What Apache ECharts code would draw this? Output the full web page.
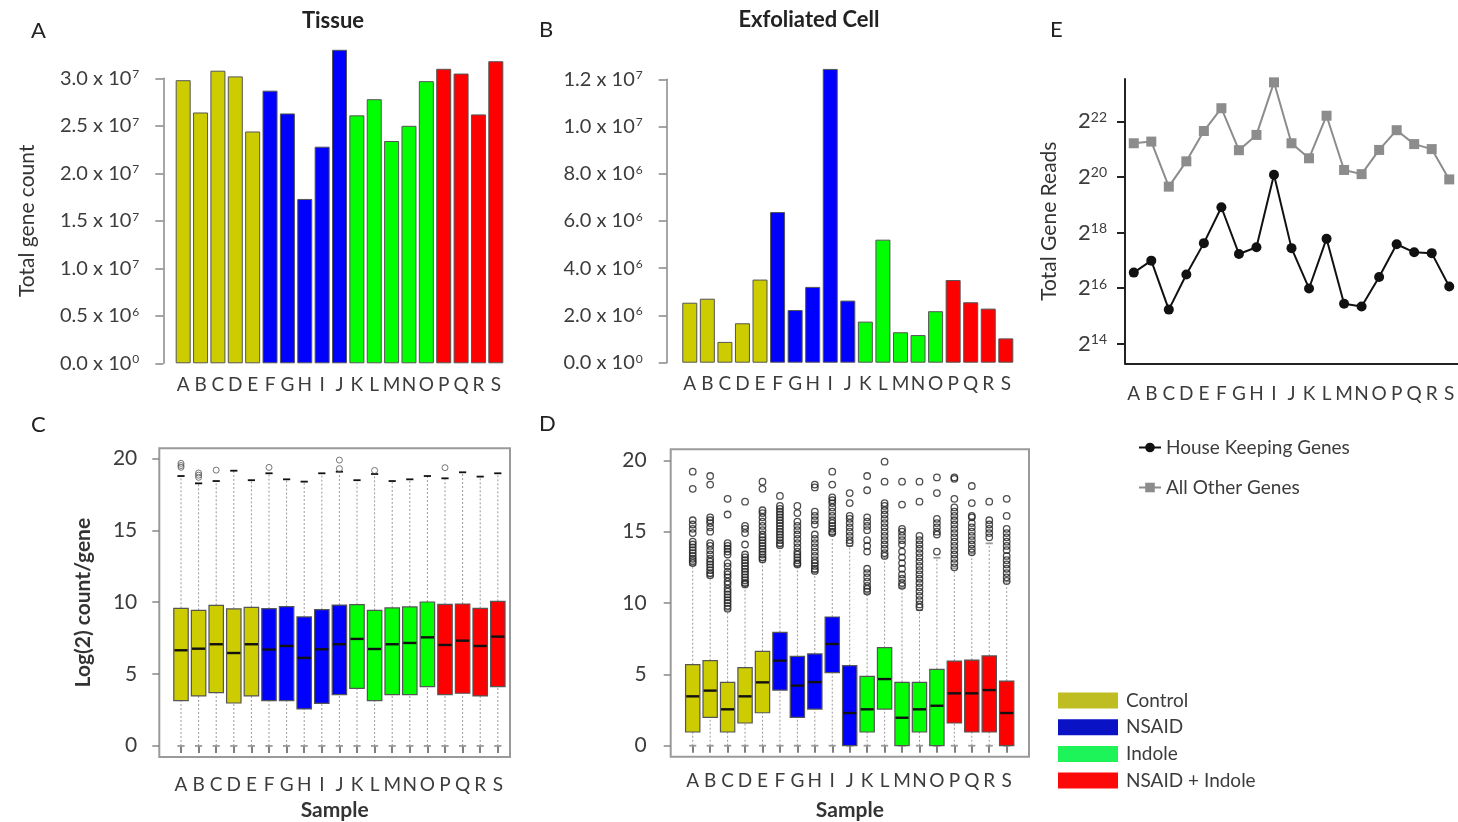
<!DOCTYPE html>
<html>
<head>
<meta charset="utf-8">
<script src="https://cdn.jsdelivr.net/npm/echarts@6/dist/echarts.min.js"></script>
<style>
html,body{margin:0;padding:0;background:#fff;}
#chart{width:1458px;height:822px;}
</style>
</head>
<body>
<div id="chart"></div>
<script>
// ---------------- DATA ----------------
const categories = ['A','B','C','D','E','F','G','H','I','J','K','L','M','N','O','P','Q','R','S'];
const groupNames = ['Control','NSAID','Indole','NSAID + Indole'];
const groupOfSample = [0,0,0,0,0,1,1,1,1,1,2,2,2,2,2,3,3,3,3];

// Panel A: Tissue total gene count
const tissueTotal = [2.98e7,2.64e7,3.08e7,3.02e7,2.44e7,2.87e7,2.63e7,1.73e7,2.28e7,3.30e7,2.61e7,2.78e7,2.34e7,2.50e7,2.97e7,3.10e7,3.05e7,2.62e7,3.18e7];
const tissueTickValues = [0,5e6,1e7,1.5e7,2e7,2.5e7,3e7];
const tissueTickLabels = ['0.0 x 10^0','0.5 x 10^6','1.0 x 10^7','1.5 x 10^7','2.0 x 10^7','2.5 x 10^7','3.0 x 10^7'];

// Panel B: Exfoliated cell total gene count
const cellTotal = [2.54e6,2.71e6,0.88e6,1.67e6,3.52e6,6.38e6,2.23e6,3.21e6,12.44e6,2.63e6,1.74e6,5.21e6,1.29e6,1.17e6,2.18e6,3.50e6,2.56e6,2.29e6,1.03e6];
const cellTickValues = [0,2e6,4e6,6e6,8e6,1e7,1.2e7];
const cellTickLabels = ['0.0 x 10^0','2.0 x 10^6','4.0 x 10^6','6.0 x 10^6','8.0 x 10^6','1.0 x 10^7','1.2 x 10^7'];

// Panel C: tissue log2 count/gene  [lower whisker, Q1, median, Q3, upper whisker]
const tissueBox = [
 [0,3.16,6.66,9.58,18.79],[0,3.48,6.77,9.44,18.28],[0,3.71,7.08,9.79,18.44],[0,2.99,6.47,9.54,19.16],
 [0,3.48,7.08,9.65,18.50],[0,3.16,6.71,9.56,18.98],[0,3.16,6.96,9.70,18.56],[0,2.58,6.13,8.98,18.40],
 [0,2.97,6.73,9.49,18.98],[0,3.57,7.08,9.81,19.09],[0,4.01,7.45,9.84,18.50],[0,3.16,6.75,9.44,18.93],
 [0,3.57,7.08,9.61,18.44],[0,3.57,7.17,9.68,18.56],[0,4.13,7.56,10.02,18.79],[0,3.57,7.03,9.86,18.63],
 [0,3.67,7.33,9.88,19.05],[0,3.48,6.96,9.58,18.75],[0,4.13,7.61,10.07,18.98]
];
const tissueOutliers = [
 [19.67,19.52,19.40],[19.0,18.85,18.7],[19.2],[],[],[19.39],[],[],[],[19.9,19.3],[],[19.18],[],[],[],[19.37],[],[],[]
];

// Panel D: exfoliated cell log2 count/gene
const cellBox = [
 [0,0.96,3.46,5.68,12.66],[0,1.99,3.86,5.96,11.85],[0,0.96,2.55,4.44,9.51],[0,1.59,3.46,5.47,11.24],
 [0,2.31,4.44,6.61,12.97],[0,3.90,5.96,7.94,13.95],[0,1.99,4.21,6.26,12.62],[0,2.57,4.46,6.43,12.15],
 [0,5.12,7.13,9.02,14.81],[0,0,2.29,5.61,14.0],[0,0.96,2.55,4.86,10.68],[0,2.57,4.67,6.87,13.2],
 [0,0,1.96,4.44,11.07],[0,0.96,2.55,4.44,9.51],[0,0,2.80,5.35,13.17],[0,1.59,3.67,5.93,12.43],
 [0,0.96,3.67,6.0,13.48],[0,0.96,3.90,6.29,14.18],[0,0,2.29,4.53,11.5]
];
const cellOutliers = [
 [19.2,18.0,15.8,15.5,15.2,14.9,14.3,14.1,13.9,13.7,13.5,13.3,13.1,12.95,12.8],
 [18.9,18.3,16.0,15.8,15.6,15.3,15.0,14.2,14.0,13.7,13.4,13.1,12.9,12.7,12.5,12.3,12.1,11.95],
 [17.3,16.2,14.2,14.0,13.8,13.6,13.4,12.8,12.55,12.2,12.0,11.8,11.5,11.3,11.0,10.8,10.6,10.4,10.2,10.0,9.8,9.6],
 [17.1,15.4,15.2,14.9,14.1,13.4,13.2,13.0,12.8,12.6,12.4,12.2,12.0,11.8,11.6,11.4,11.3],
 [18.5,18.0,16.5,16.3,16.0,15.7,15.4,15.1,14.8,14.6,14.4,14.2,14.0,13.8,13.6,13.4,13.2,13.05],
 [17.5,16.8,16.6,16.4,16.2,16.0,15.8,15.6,15.4,15.2,15.0,14.8,14.6,14.4,14.2,14.05],
 [16.8,16.3,15.7,15.4,15.1,14.8,14.5,14.2,13.9,13.6,13.4,13.2,13.0,12.8,12.7],
 [18.3,18.1,16.4,16.1,15.8,15.5,14.8,14.5,14.2,13.9,13.6,13.3,13.0,12.8,12.6,12.4,12.25],
 [19.2,18.3,17.4,17.2,17.0,16.7,16.4,16.1,15.8,15.6,15.4,15.2,15.0,14.9],
 [17.7,17.0,16.1,15.9,15.6,15.3,15.0,14.7,14.4,14.2],
 [18.9,17.9,16.0,15.7,15.4,15.1,14.4,14.0,13.6,12.4,12.1,11.8,11.5,11.2,11.0,10.8],
 [19.9,18.5,17.0,16.8,16.5,16.2,15.9,15.6,15.3,15.0,14.7,14.4,14.1,13.8,13.5,13.3],
 [18.5,16.9,15.2,15.0,14.7,14.4,14.1,13.6,13.2,12.8,12.4,12.0,11.7,11.4,11.2],
 [18.5,17.1,14.7,14.4,14.1,13.8,13.5,13.2,12.9,12.6,12.3,12.0,11.7,11.4,11.1,10.8,10.5,10.2,9.9,9.7],
 [18.8,17.7,15.9,15.6,15.3,15.0,14.8,13.6],
 [18.8,18.7,17.3,16.7,16.4,16.1,15.8,15.5,15.2,14.9,14.6,14.3,14.0,13.7,13.4,13.1,12.8,12.5],
 [18.2,17.0,16.1,16.0,15.6,15.3,15.0,14.7,14.4,14.1,13.8,13.55],
 [17.1,15.8,15.5,15.2,14.9,14.6],
 [17.3,16.1,15.2,14.9,14.6,14.3,14.0,13.7,13.3,13.0,12.7,12.4,12.1,11.8,11.55]
];

// Panel E: total gene reads (log2)
const housekeepingLog2 = [16.56,16.99,15.23,16.49,17.62,18.91,17.23,17.47,20.08,17.44,15.99,17.78,15.44,15.34,16.40,17.58,17.29,17.26,16.06];
const otherLog2 = [21.21,21.27,19.65,20.56,21.65,22.47,20.96,21.51,23.40,21.21,20.67,22.20,20.25,20.10,20.97,21.68,21.18,21.00,19.91];
const log2TickValues = [14,16,18,20,22];

// ---------------- STYLE ----------------
const FONT = 'Lato, "Open Sans", sans-serif';
const TXT = '#3c3c3c';
const barColors = ['#CCCC00','#0000FF','#00FF00','#FF0000'];
const legendColors = ['#BEBE22','#0A12C6','#1CF45A','#FC0A0A'];

function sci(label){
  const p = label.split('^');
  return '{m|' + p[0] + '}{e|' + p[1] + '}';
}
const sciRich = {
  m:{fontSize:20, color:TXT, fontFamily:FONT},
  e:{fontSize:12, color:TXT, fontFamily:FONT, verticalAlign:'top', padding:[0,0,0,1]}
};

function barSeries(values, xi, yi){
  return groupNames.map(function(name, g){
    return {
      type:'bar', name:name, xAxisIndex:xi, yAxisIndex:yi,
      barWidth:15, barGap:'-100%',
      itemStyle:{color:barColors[g], borderColor:'#555', borderWidth:1},
      data: values.map(function(v,i){ return groupOfSample[i]===g ? v : '-'; })
    };
  });
}

function boxRenderer(capColor){
  return function(params, api){
    const x = api.value(0);
    const lo = api.coord([x, api.value(1)]);
    const q1 = api.coord([x, api.value(2)]);
    const md = api.coord([x, api.value(3)]);
    const q3 = api.coord([x, api.value(4)]);
    const hi = api.coord([x, api.value(5)]);
    const bw = api.size([1,0])[0] * 0.82;
    const cx = lo[0];
    const color = barColors[groupOfSample[x]];
    const children = [
      {type:'line', shape:{x1:cx,y1:lo[1],x2:cx,y2:q1[1]}, style:{stroke:'#9a9a9a', lineWidth:1, lineDash:[2,2]}},
      {type:'line', shape:{x1:cx,y1:q3[1],x2:cx,y2:hi[1]}, style:{stroke:'#9a9a9a', lineWidth:1, lineDash:[2,2]}},
      {type:'line', shape:{x1:cx-bw/4,y1:hi[1],x2:cx+bw/4,y2:hi[1]}, style:{stroke:capColor, lineWidth:1.8}},
      {type:'line', shape:{x1:cx-bw/4,y1:lo[1],x2:cx+bw/4,y2:lo[1]}, style:{stroke:'#999', lineWidth:1.8}}
    ];
    if (q1[1] - q3[1] > 0.5) {
      children.push({type:'rect', shape:{x:cx-bw/2, y:q3[1], width:bw, height:q1[1]-q3[1]}, style:{fill:color, stroke:'#555', lineWidth:1.2}});
    }
    children.push({type:'line', shape:{x1:cx-bw/2+0.6,y1:md[1],x2:cx+bw/2-0.6,y2:md[1]}, style:{stroke:'#111', lineWidth:2.4}});
    return {type:'group', children:children};
  };
}

function outlierData(lists){
  const out = [];
  lists.forEach(function(l,i){ l.forEach(function(v){ out.push([i, v]); }); });
  return out;
}

const hiddenX = function(gi){ return {gridIndex:gi, type:'value', min:0, max:1, show:false}; };

const catLabel = function(margin){ return {interval:0, fontSize:19, color:TXT, fontFamily:FONT, margin:margin}; };
const letterStyle = {fontSize:22, fontWeight:'normal', color:'#222', fontFamily:FONT};
const titleStyle = {fontSize:22, fontWeight:'bold', color:'#222', fontFamily:FONT};

const option = {
  animation:false,
  backgroundColor:'#fff',
  textStyle:{fontFamily:FONT},
  title:[
    {text:'A', left:31, top:20, padding:0, textStyle:letterStyle},
    {text:'Tissue', left:333, top:10, textAlign:'center', padding:0, textStyle:titleStyle},
    {text:'B', left:539, top:19, padding:0, textStyle:letterStyle},
    {text:'Exfoliated Cell', left:809, top:9, textAlign:'center', padding:0, textStyle:titleStyle},
    {text:'C', left:31, top:414, padding:0, textStyle:letterStyle},
    {text:'D', left:539, top:413, padding:0, textStyle:letterStyle},
    {text:'E', left:1050, top:19, padding:0, textStyle:letterStyle}
  ],
  legend:[
    {
      orient:'vertical', left:1133, top:433, itemWidth:22, itemHeight:12, itemGap:21,
      textStyle:{fontSize:19, color:TXT, fontFamily:FONT},
      data:['House Keeping Genes','All Other Genes']
    },
    {
      orient:'vertical', left:1053, top:686, itemWidth:60, itemHeight:16, itemGap:7.7,
      icon:'rect', selectedMode:false,
      textStyle:{fontSize:19, color:TXT, fontFamily:FONT, padding:[0,0,0,3]},
      data: groupNames.map(function(n,g){ return {name:n, itemStyle:{color:legendColors[g], borderWidth:0}}; })
    }
  ],
  grid:[
    {left:163.3, top:78.3, width:10, height:285},
    {left:174.5, top:49.8, width:330, height:313.5},
    {left:666.7, top:79.3, width:10, height:283.4},
    {left:681, top:55.7, width:333.6, height:307},
    {left:159.3, top:448.3, width:350.7, height:309, show:true, borderColor:'#9a9a9a', borderWidth:2},
    {left:172.2, top:448.3, width:334.4, height:309},
    {left:670.7, top:449.3, width:358.3, height:307.4, show:true, borderColor:'#9a9a9a', borderWidth:2},
    {left:684, top:449.3, width:331.4, height:307.4},
    {left:1125, top:79, width:333, height:284.3}
  ],
  xAxis:[
    hiddenX(0),
    {gridIndex:1, type:'category', data:categories, axisLine:{show:false}, axisTick:{show:false}, axisLabel:catLabel(12)},
    hiddenX(2),
    {gridIndex:3, type:'category', data:categories, axisLine:{show:false}, axisTick:{show:false}, axisLabel:catLabel(12)},
    {gridIndex:4, type:'value', min:0, max:1, axisLine:{show:false}, axisTick:{show:false}, axisLabel:{show:false}, splitLine:{show:false},
      name:'Sample', nameLocation:'middle', nameGap:43, nameTextStyle:{fontSize:21, fontWeight:'bold', color:'#333', fontFamily:FONT}},
    {gridIndex:5, type:'category', data:categories, axisLine:{show:false},
      axisTick:{show:true, alignWithLabel:true, length:7, lineStyle:{color:'#555', width:1.5}}, axisLabel:catLabel(18)},
    {gridIndex:6, type:'value', min:0, max:1, axisLine:{show:false}, axisTick:{show:false}, axisLabel:{show:false}, splitLine:{show:false},
      name:'Sample', nameLocation:'middle', nameGap:43, nameTextStyle:{fontSize:21, fontWeight:'bold', color:'#333', fontFamily:FONT}},
    {gridIndex:7, type:'category', data:categories, axisLine:{show:false},
      axisTick:{show:true, alignWithLabel:true, length:7, lineStyle:{color:'#555', width:1.5}}, axisLabel:catLabel(15)},
    {gridIndex:8, type:'category', data:categories, boundaryGap:true,
      axisLine:{lineStyle:{color:'#222', width:2}},
      axisTick:{alignWithLabel:true, length:8, lineStyle:{color:'#222', width:2}}, axisLabel:catLabel(21)}
  ],
  yAxis:[
    {gridIndex:0, type:'value', min:0, max:3e7, interval:5e6, splitLine:{show:false},
      axisLine:{show:true, lineStyle:{color:'#888', width:1.5}}, axisTick:{show:true, length:8, lineStyle:{color:'#888', width:1.5}},
      axisLabel:{margin:24, rich:sciRich, formatter:function(v){ const i = tissueTickValues.indexOf(v); return i<0 ? '' : sci(tissueTickLabels[i]); }},
      name:'Total gene count', nameLocation:'middle', nameRotate:90, nameGap:126,
      nameTextStyle:{fontSize:21, color:'#333', fontFamily:FONT}},
    {gridIndex:1, type:'value', min:0, max:3.3e7, show:false, splitLine:{show:false}},
    {gridIndex:2, type:'value', min:0, max:1.2e7, interval:2e6, splitLine:{show:false},
      axisLine:{show:true, lineStyle:{color:'#888', width:1.5}}, axisTick:{show:true, length:8, lineStyle:{color:'#888', width:1.5}},
      axisLabel:{margin:24, rich:sciRich, formatter:function(v){ const i = cellTickValues.indexOf(v); return i<0 ? '' : sci(cellTickLabels[i]); }}},
    {gridIndex:3, type:'value', min:0, max:1.3e7, show:false, splitLine:{show:false}},
    {gridIndex:4, type:'value', min:-0.79, max:20.72, splitLine:{show:false}, axisLine:{show:false},
      axisTick:{show:true, customValues:[0,5,10,15,20], length:7, lineStyle:{color:'#888', width:1.5}},
      axisLabel:{customValues:[0,5,10,15,20], fontSize:21, color:TXT, fontFamily:FONT, margin:22},
      name:'Log(2) count/gene', nameLocation:'middle', nameRotate:90, nameGap:66,
      nameTextStyle:{fontSize:21, fontWeight:'bold', color:'#333', fontFamily:FONT}},
    {gridIndex:5, type:'value', min:-0.79, max:20.72, show:false, splitLine:{show:false}},
    {gridIndex:6, type:'value', min:-0.77, max:20.77, splitLine:{show:false}, axisLine:{show:false},
      axisTick:{show:true, customValues:[0,5,10,15,20], length:7, lineStyle:{color:'#888', width:1.5}},
      axisLabel:{customValues:[0,5,10,15,20], fontSize:21, color:TXT, fontFamily:FONT, margin:24}},
    {gridIndex:7, type:'value', min:-0.77, max:20.77, show:false, splitLine:{show:false}},
    {gridIndex:8, type:'value', min:13.3, max:23.52, splitLine:{show:false},
      axisLine:{show:true, lineStyle:{color:'#222', width:2}},
      axisTick:{show:true, customValues:log2TickValues, length:8, lineStyle:{color:'#222', width:2}},
      axisLabel:{customValues:log2TickValues, margin:18,
        rich:{b:{fontSize:22, color:TXT, fontFamily:FONT}, s:{fontSize:14, color:TXT, fontFamily:FONT, verticalAlign:'top'}},
        formatter:function(v){ return '{b|2}{s|' + v + '}'; }},
      name:'Total Gene Reads', nameLocation:'middle', nameRotate:90, nameGap:65,
      nameTextStyle:{fontSize:21, color:'#333', fontFamily:FONT}}
  ],
  series: [].concat(
    barSeries(tissueTotal, 1, 1),
    barSeries(cellTotal, 3, 3),
    [
      {type:'custom', xAxisIndex:5, yAxisIndex:5, renderItem:boxRenderer('#111'),
        encode:{x:0, y:[1,2,3,4,5]}, data: tissueBox.map(function(b,i){ return [i].concat(b); })},
      {type:'scatter', xAxisIndex:5, yAxisIndex:5, symbol:'circle', symbolSize:6,
        itemStyle:{color:'rgba(0,0,0,0)', borderColor:'#555', borderWidth:1}, data: outlierData(tissueOutliers)},
      {type:'custom', xAxisIndex:7, yAxisIndex:7, renderItem:boxRenderer('#999'),
        encode:{x:0, y:[1,2,3,4,5]}, data: cellBox.map(function(b,i){ return [i].concat(b); })},
      {type:'scatter', xAxisIndex:7, yAxisIndex:7, symbol:'circle', symbolSize:6.5,
        itemStyle:{color:'rgba(0,0,0,0)', borderColor:'#222', borderWidth:1.3}, data: outlierData(cellOutliers)},
      {type:'line', name:'House Keeping Genes', xAxisIndex:8, yAxisIndex:8, data:housekeepingLog2,
        symbol:'circle', symbolSize:10, lineStyle:{color:'#111', width:2}, itemStyle:{color:'#111'}},
      {type:'line', name:'All Other Genes', xAxisIndex:8, yAxisIndex:8, data:otherLog2,
        symbol:'rect', symbolSize:10, lineStyle:{color:'#8c8c8c', width:2}, itemStyle:{color:'#8c8c8c'}}
    ]
  )
};

const chart = echarts.init(document.getElementById('chart'), null, {renderer:'canvas'});
chart.setOption(option);
</script>
</body>
</html>
